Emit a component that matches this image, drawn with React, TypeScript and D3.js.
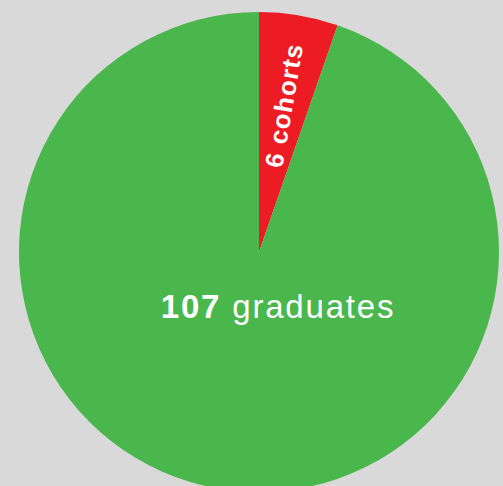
import React from "react";
import * as d3 from "d3";

const categories = ["cohorts", "graduates"];
const values = [6, 107];
const colors = ["#ed1c24", "#4ab74c"];

const W = 503;
const H = 486;
const CX = 259;
const CY = 252;
const R = 240;

export default function App() {
  const pie = d3.pie<number>().sort(null).value((d) => d);
  const arcs = pie(values);
  const arcGen = d3.arc<d3.PieArcDatum<number>>().innerRadius(0).outerRadius(R);

  const a0 = arcs[0];
  const mid0 = (a0.startAngle + a0.endAngle) / 2;
  const lr = R * 0.62;
  const lx = Math.sin(mid0) * lr;
  const ly = -Math.cos(mid0) * lr;
  const rot = (mid0 * 180) / Math.PI - 90;

  return (
    <svg
      width={W}
      height={H}
      style={{ position: "absolute", left: 0, top: 0, background: "#d9d9d9" }}
      fontFamily="'Liberation Sans', Arial, sans-serif"
    >
      <rect x={0} y={0} width={W} height={H} fill="#d9d9d9" />
      <g transform={`translate(${CX},${CY})`}>
        {arcs.map((a, i) => (
          <path key={categories[i]} d={arcGen(a) || ""} fill={colors[i]} />
        ))}
        <text
          transform={`translate(${lx},${ly}) rotate(${rot})`}
          textAnchor="middle"
          dy="0.36em"
          fill="#fff"
          fontSize={25.5}
          fontWeight="bold"
          letterSpacing={1.2}
        >
          {`${values[0]} ${categories[0]}`}
        </text>
        <text
          x={19}
          y={66}
          textAnchor="middle"
          fill="#fff"
          fontSize={33}
          letterSpacing={1.8}
        >
          <tspan fontWeight="bold">{values[1]}</tspan>
          <tspan>{` ${categories[1]}`}</tspan>
        </text>
      </g>
    </svg>
  );
}
